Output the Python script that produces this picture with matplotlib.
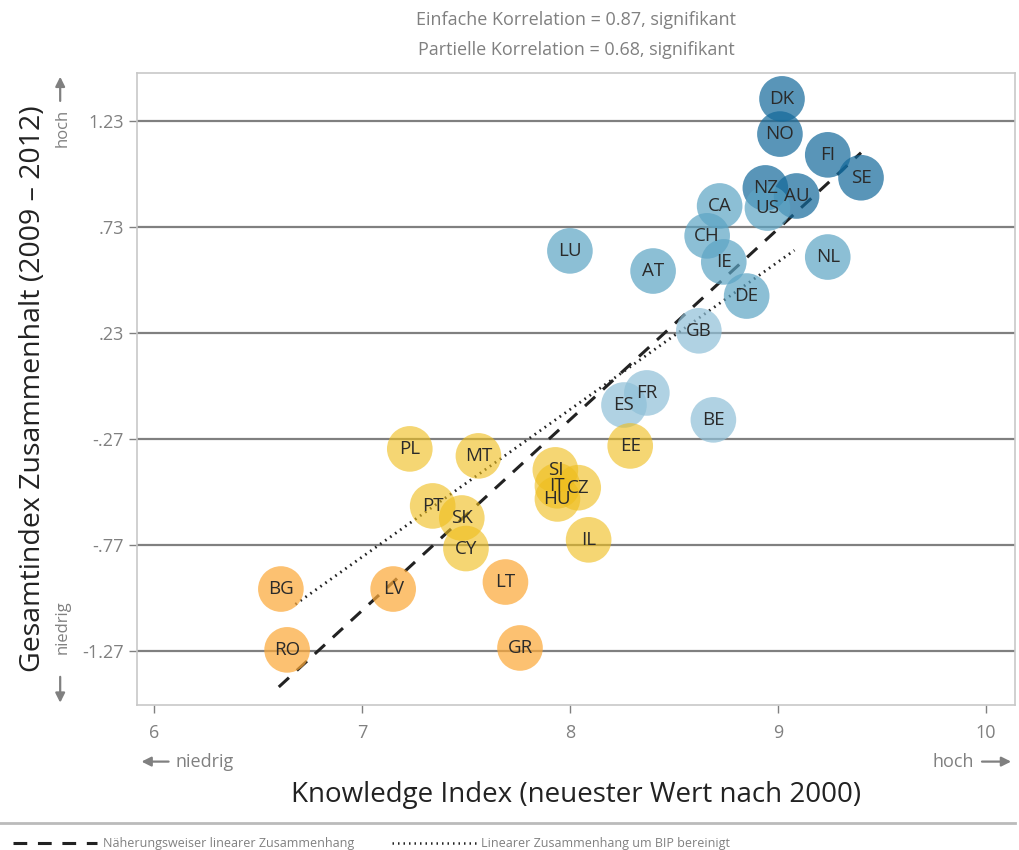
import matplotlib

matplotlib.use("Agg")
import matplotlib.pyplot as plt

plt.rcParams["font.family"] = ["Open Sans", "DejaVu Sans"]

# data
countries = ["DK", "NO", "FI", "SE", "NZ", "AU",
             "US", "CA", "CH", "IE", "AT", "LU", "NL", "DE",
             "GB", "FR", "ES", "BE",
             "EE", "PL", "MT", "SI", "CZ", "IT", "HU", "PT", "SK", "CY", "IL",
             "LT", "BG", "LV", "RO", "GR"]
knowledge = [9.02, 9.01, 9.24, 9.40, 8.94, 9.09,
             8.95, 8.72, 8.66, 8.74, 8.40, 8.00, 9.24, 8.85,
             8.62, 8.37, 8.26, 8.69,
             8.29, 7.23, 7.56, 7.93, 8.04, 7.94, 7.94, 7.34, 7.48, 7.50, 8.09,
             7.69, 6.61, 7.15, 6.64, 7.76]
cohesion = [1.334, 1.168, 1.070, 0.962, 0.914, 0.876,
            0.819, 0.829, 0.688, 0.565, 0.522, 0.617, 0.588, 0.404,
            0.240, -0.053, -0.110, -0.180,
            -0.303, -0.317, -0.350, -0.416, -0.500, -0.491, -0.553, -0.586, -0.643, -0.787, -0.746,
            -0.945, -0.978, -0.978, -1.265, -1.256]
groups = ["d"] * 6 + ["m"] * 8 + ["l"] * 4 + ["y"] * 11 + ["o"] * 5

group_colors = {"d": "#12689a", "m": "#5ca4c4", "l": "#8fc0d8", "y": "#efbe1d", "o": "#fca93a"}
group_alpha = {"d": 0.7, "m": 0.7, "l": 0.7, "y": 0.62, "o": 0.72}

yticks = [1.23, 0.73, 0.23, -0.27, -0.77, -1.27]
ytick_labels = ["1.23", ".73", ".23", "-.27", "-.77", "-1.27"]
xticks = [6, 7, 8, 9, 10]

fit_x = [6.60, 9.40]
fit_y = [-1.44, 1.08]
gdp_x = [6.68, 9.08]
gdp_y = [-1.05, 0.62]

grey = "#808080"

fig = plt.figure(figsize=(10.2, 8.5), dpi=100)
ax = fig.add_axes([0.1343, 0.1706, 0.8607, 0.7435])

for y in yticks:
    ax.axhline(y, color=grey, lw=1.6, zorder=1)

ax.plot(fit_x, fit_y, color="#222222", lw=2.2, ls=(0, (4.5, 3.5)), zorder=2)
ax.plot(gdp_x, gdp_y, color="#222222", lw=2.0, ls=(0, (0.6, 1.6)), zorder=2)

for c, x, y, g in zip(countries, knowledge, cohesion, groups):
    ax.scatter(x, y, s=1080, color=group_colors[g], alpha=group_alpha[g],
               edgecolors="none", zorder=3)
    ax.text(x, y, c, ha="center", va="center", fontsize=13.5, color="#2a2a2a",
            zorder=4)

ax.set_xlim(5.918, 10.14)
ax.set_ylim(-1.525, 1.456)
ax.set_xticks(xticks)
ax.set_yticks(yticks)
ax.set_yticklabels(ytick_labels)
ax.tick_params(colors=grey, labelsize=13, length=6, width=1)
ax.tick_params(axis="x", pad=8)
for side in ax.spines.values():
    side.set_color("#c8c8c8")
    side.set_linewidth(1.2)

ax.set_xlabel("Knowledge Index (neuester Wert nach 2000)", fontsize=20,
              labelpad=28, color="#222222")
ax.set_ylabel("Gesamtindex Zusammenhalt (2009 \u2013 2012)", fontsize=20.5,
              labelpad=25, color="#222222")

fig.text(0.565, 0.977, "Einfache Korrelation = 0.87, signifikant", ha="center",
         va="center", fontsize=13, color=grey)
fig.text(0.565, 0.941, "Partielle Korrelation = 0.68, signifikant", ha="center",
         va="center", fontsize=13, color=grey)

# direction hints
arrow = dict(arrowstyle="-|>", color=grey, lw=1.6, mutation_scale=14)
fig.text(0.061, 0.850, "hoch", rotation=90, ha="center", va="center", fontsize=12, color=grey)
fig.text(0.061, 0.262, "niedrig", rotation=90, ha="center", va="center", fontsize=12, color=grey)
ax.annotate("", xy=(0.059, 0.913), xytext=(0.059, 0.878), xycoords="figure fraction",
            textcoords="figure fraction", arrowprops=arrow)
ax.annotate("", xy=(0.059, 0.170), xytext=(0.059, 0.207), xycoords="figure fraction",
            textcoords="figure fraction", arrowprops=arrow)
fig.text(0.172, 0.104, "niedrig", ha="left", va="center", fontsize=13, color=grey)
ax.annotate("", xy=(0.136, 0.104), xytext=(0.168, 0.104), xycoords="figure fraction",
            textcoords="figure fraction", arrowprops=arrow)
fig.text(0.955, 0.104, "hoch", ha="right", va="center", fontsize=13, color=grey)
ax.annotate("", xy=(0.994, 0.104), xytext=(0.960, 0.104), xycoords="figure fraction",
            textcoords="figure fraction", arrowprops=arrow)

# legend strip
fig.add_artist(plt.Line2D([0.0, 0.995], [0.032, 0.032], color="#bbbbbb", lw=2.0))
fig.add_artist(plt.Line2D([0.013, 0.095], [0.008, 0.008], color="#222222", lw=2.2,
                          ls=(0, (4.5, 3.5))))
fig.text(0.101, 0.008, "N\u00e4herungsweiser linearer Zusammenhang", ha="left",
         va="center", fontsize=9, color=grey)
fig.add_artist(plt.Line2D([0.384, 0.468], [0.008, 0.008], color="#222222", lw=1.8,
                          ls=(0, (0.6, 1.6))))
fig.text(0.472, 0.008, "Linearer Zusammenhang um BIP bereinigt", ha="left",
         va="center", fontsize=9, color=grey)

fig.savefig("out.png", dpi=100)
plt.close(fig)
